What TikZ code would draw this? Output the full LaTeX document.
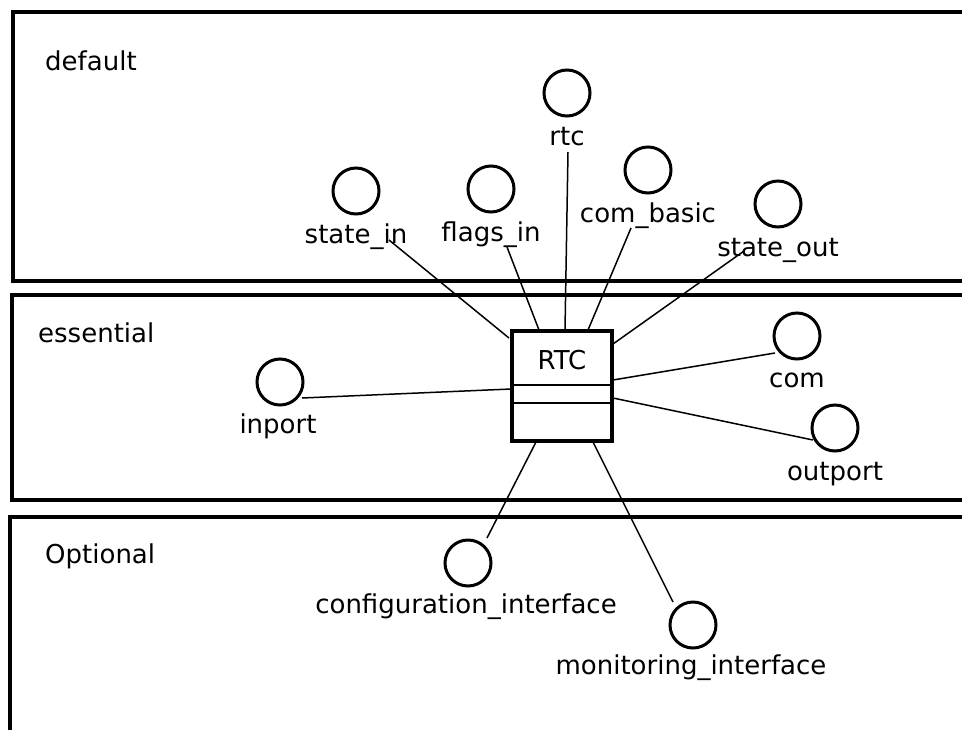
\documentclass[tikz,border=0pt]{standalone}
\usepackage{fontspec}
\setmainfont{DejaVu Sans}
\begin{document}
\begin{tikzpicture}[x=1pt,y=-1pt,
  zone/.style={draw, line width=3.5pt},
  port/.style={circle, draw, line width=3pt, minimum size=46pt, inner sep=0pt},
  plabel/.style={anchor=base, inner sep=0pt, font=\fontsize{26}{30}\selectfont},
  zlabel/.style={anchor=base west, inner sep=0pt, font=\fontsize{26}{30}\selectfont},
  conn/.style={line width=1.5pt},
  rtcbox/.style={draw, fill=white, line width=4pt, minimum width=100pt, minimum height=110pt, inner sep=0pt},
  divider/.style={line width=2pt}]
\useasboundingbox (0,0) rectangle (962,729);
\clip (0,0) rectangle (962,729);
\fill[white] (0,0) rectangle (962,729);

% zones
\draw[zone] (13,12) rectangle (990,281);
\draw[zone] (12,295) rectangle (990,500);
\draw[zone] (10,517) rectangle (990,760);
\node[zlabel] (zdefault) at (45,70) {default};
\node[zlabel] (zessential) at (38,342) {essential};
\node[zlabel] (zoptional) at (45,563) {Optional};

% ports
\node[port] (pstatein) at (356,191) {};
\node[plabel] (lstatein) at (356,243) {state\_in};
\node[port] (pflagsin) at (491,189) {};
\node[plabel] (lflagsin) at (491,241) {flags\_in};
\node[port] (prtc) at (567,93) {};
\node[plabel] (lrtc) at (567,145) {rtc};
\node[port] (pcombasic) at (648,170) {};
\node[plabel] (lcombasic) at (648,222) {com\_basic};
\node[port] (pstateout) at (778,204) {};
\node[plabel] (lstateout) at (778,256) {state\_out};
\node[port] (pinport) at (280,382) {};
\node[plabel] (linport) at (278,433) {inport};
\node[port] (pcom) at (797,336) {};
\node[plabel] (lcom) at (797,387) {com};
\node[port] (poutport) at (835,428) {};
\node[plabel] (loutport) at (835,480) {outport};
\node[port] (pconfig) at (468,563) {};
\node[plabel] (lconfig) at (466,613) {configuration\_interface};
\node[port] (pmonitor) at (693,625) {};
\node[plabel] (lmonitor) at (691,674) {monitoring\_interface};

% connector end points
\coordinate (s1) at (509,338); \coordinate (e1) at (389,240);
\coordinate (s2) at (539,330); \coordinate (e2) at (507,247);
\coordinate (s3) at (565,330); \coordinate (e3) at (568,152);
\coordinate (s4) at (588,330); \coordinate (e4) at (631,228);
\coordinate (s5) at (613,344); \coordinate (e5) at (744,251);
\coordinate (s6) at (613,380); \coordinate (e6) at (775,353);
\coordinate (s7) at (613,398); \coordinate (e7) at (813,440);
\coordinate (s8) at (511,389); \coordinate (e8) at (302,398);
\coordinate (s9) at (536,442); \coordinate (e9) at (487,538);
\coordinate (s10) at (593,442); \coordinate (e10) at (673,602);
\foreach \i in {1,...,10} {\draw[conn] (s\i) -- (e\i);}

% RTC component
\node[rtcbox] (rtc) at (562,386) {};
\node[plabel] (lrtcname) at (562,369) {RTC};
\draw[divider] (rtc.west |- 0,385) -- (rtc.east |- 0,385);
\draw[divider] (rtc.west |- 0,403) -- (rtc.east |- 0,403);
\end{tikzpicture}
\end{document}
